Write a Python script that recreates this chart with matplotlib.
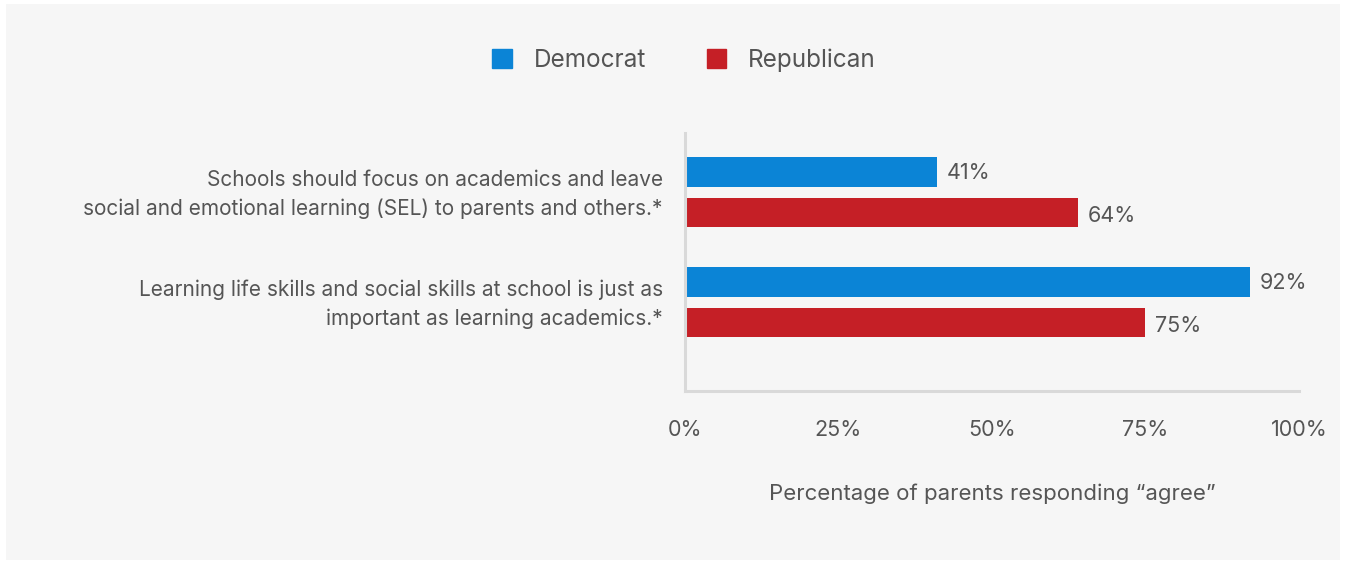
import matplotlib.pyplot as plt
from matplotlib.patches import Rectangle, Patch
from matplotlib.transforms import ScaledTranslation

plt.rcParams['font.family'] = ['Inter', 'DejaVu Sans']

statements = [
    "Schools should focus on academics and leave\nsocial and emotional learning (SEL) to parents and others.*",
    "Learning life skills and social skills at school is just as\nimportant as learning academics.*",
]
democrat = [41, 92]
republican = [64, 75]
xticks = [0, 25, 50, 75, 100]

blue = "#0b84d6"
red = "#c51f26"
txt = "#555555"
grid = "#d9d9d9"

W, H = 1346, 564
fig = plt.figure(figsize=(W / 100, H / 100), dpi=100)
fig.patch.set_facecolor("white")
fig.patches.append(Rectangle((6 / W, 4 / H), 1334 / W, 556 / H,
                             transform=fig.transFigure, facecolor="#f6f6f6",
                             edgecolor="none", zorder=-10))

ax = fig.add_axes([685 / W, (H - 391) / H, 614 / W, 258 / H])
ax.set_facecolor("none")
ax.set_zorder(5)

pos = list(range(len(statements)))
off = 0.185
h = 0.27
ax.barh([p - off for p in pos], democrat, height=h, color=blue, label="Democrat")
ax.barh([p + off for p in pos], republican, height=h, color=red, label="Republican")

fs = 15.5
for p, v in zip(pos, democrat):
    ax.text(v + 1.6, p - off + 0.01, f"{v}%", va="center", ha="left", fontsize=fs, color=txt)
for p, v in zip(pos, republican):
    ax.text(v + 1.6, p + off + 0.03, f"{v}%", va="center", ha="left", fontsize=fs, color=txt)

ax.set_xlim(0, 100)
ax.set_ylim(1.81, -0.54)
ax.set_xticks(xticks)
ax.set_xticklabels([f"{t}%" for t in xticks], fontsize=fs, color=txt)
ax.set_yticks(pos)
ax.set_yticklabels(statements, fontsize=15, color=txt, ha="right", linespacing=1.5)
ax.tick_params(axis="both", length=0)
ax.tick_params(axis="x", pad=21)
ax.tick_params(axis="y", pad=16)

# nudge category labels up a little
shift = ScaledTranslation(0, 4 / 100, fig.dpi_scale_trans)
for lab in ax.get_yticklabels():
    lab.set_transform(lab.get_transform() + shift)

for s in ["top", "right"]:
    ax.spines[s].set_visible(False)
for s in ["left", "bottom"]:
    ax.spines[s].set_color(grid)
    ax.spines[s].set_linewidth(2.2)

ax.set_xlabel("Percentage of parents responding \u201cagree\u201d", fontsize=16,
              color=txt, labelpad=31)

handles = [Patch(color=blue, label="Democrat"), Patch(color=red, label="Republican")]
leg = fig.legend(handles=handles, loc="center", bbox_to_anchor=(684 / W, 1 - 60 / H),
                 ncol=2, frameon=False, fontsize=17.5, handlelength=0.8,
                 handleheight=0.8, handletextpad=0.9, columnspacing=2.5)
for t in leg.get_texts():
    t.set_color(txt)

fig.savefig("out.png", dpi=100)
